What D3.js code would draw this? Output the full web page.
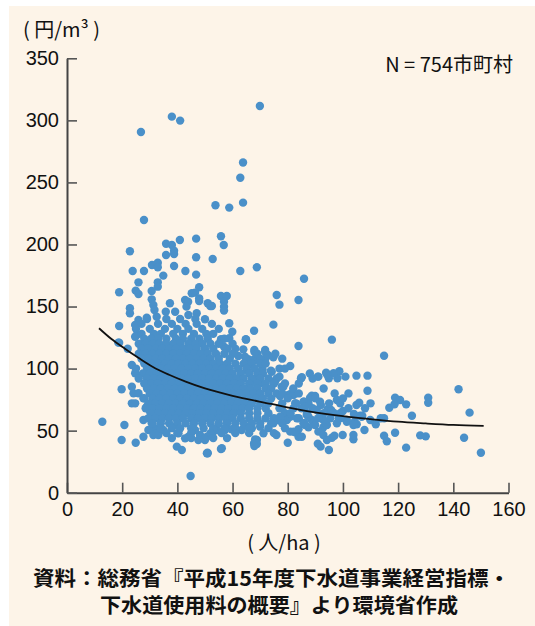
<!DOCTYPE html>
<html>
<head>
<meta charset="utf-8">
<script src="https://cdn.jsdelivr.net/npm/d3@7"></script>
<style>
body { margin: 0; background: #fff; }
svg { display: block; }
</style>
</head>
<body>
<script>
// sparse high-cost municipalities [density, cost]
var highPoints = [
  [69.9,311.6],[38.0,303.0],[41.0,299.8],[26.8,290.6],[63.8,266.0],[62.8,253.8],[63.8,233.7],
  [53.8,231.6],[58.8,229.7],[27.9,219.7],[46.8,204.7],[55.8,206.6],[56.8,199.6],[40.9,203.6],
  [35.9,200.6],[38.0,199.6],[38.8,195.0],[38.8,192.3],[35.9,191.5],[22.8,194.5],[46.8,189.7],
  [52.8,188.3],[68.8,181.6],[30.8,183.5],[32.9,185.3],[32.9,181.6],[38.8,182.7],[23.8,178.6],
  [27.9,178.6],[42.9,178.6],[46.8,175.7],[62.8,178.6],[34.9,174.9],[85.9,172.4],[25.9,169.5],
  [32.9,169.5],[32.9,166.0],[30.7,162.5],[18.9,161.5],[24.9,162.8],[25.9,160.1],[47.9,165.5],
  [45.2,160.7],[46.4,161.2],[76.0,159.3],[83.9,155.3],[77.0,151.5],[55.8,158.5],[57.9,158.5],
  [56.9,153.9],[56.9,149.9],[56.9,146.7],[51.0,152.6],[51.9,150.4],[74.8,135.4],[67.8,130.5],
  [64.9,123.3],[96.0,123.3],[83.9,118.2],[114.9,110.4]
];

// upper edge of the main cloud
var upperPoints = [
  [18.9,134.3],[22.8,148.6],[22.8,144.6],[18.9,120.9],[42.8,155.3],[43.9,153.9],[43.3,149.9],
  [30.7,155.8],[31.3,151.2],[31.7,147.2],[37.3,152.6],[52.5,150.4],[50.0,139.7],[47.0,144.6],
  [44.0,143.2],[35.8,145.8],[39.2,145.8],[32.5,141.8],[28.9,141.0],[25.9,139.2],[24.7,135.2],
  [25.3,127.1],[24.7,125.7],[47.9,156.6],[47.9,154.5],[58.8,136.5],[59.9,129.7],[58.8,124.4],
  [55.8,123.6],[64.8,123.6],[56.9,117.6],[63.9,115.5],[67.9,115.0],[71.8,115.0],[18.6,120.9],
  [23.5,102.9],[24.7,96.2],[19.8,83.3],[23.5,85.4],[24.1,80.1],[25.9,80.1],[23.5,72.0],[24.7,72.0]
];

// dense core, read row by row: cost level and the densities on it
var coreRowY = [140,136,132,128,124,120,116,112,108,104,100,96,92,88,84,80,76,72,68,64,60,56,52,48,44];
var coreRowX = [
  [29,36,41,46.5],
  [27,33,38,43,47,52.5],
  [25,30,35.5,40,44,49,55],
  [27,31.5,34,38.5,42,46,50.5,53],
  [28,30.5,33,36,39.5,42,45,48,51,57],
  [26,28.5,31,33.5,36,38.5,41,44,46.5,49,52,55,60],
  [22,27,29.5,32,34.5,37,39.5,42,44.5,47,50,53,58,61],
  [26,28.5,31,33.5,36,38.5,41,43.5,46,48.5,51,54,57,60,69,75.5],
  [27,29.5,32,34.5,37,39.5,42,44.5,47,49.5,52,55,59,70,78],
  [28,30.5,33,35.5,38,40.5,43,45.5,48,50.5,53,55.5,58,61,64,67,70,72],
  [25,29,31.5,34,36.5,39,41.5,44,46.5,49,51.5,54,56.5,59,62,65,68,77,79],
  [27.5,30,32.5,35,37.5,40,42.5,45,47.5,50,52.5,55,57.5,60,63,66,69,71,88],
  [26,29,31.5,34,36.5,39,41.5,44,46.5,49,51.5,54,56.5,59,61.5,64,67,70,73,76,89],
  [28,30.5,33,35.5,38,40.5,43,45.5,48,50.5,53,55.5,58,60.5,63,66,69,72,75,79,84],
  [29,31.5,34,36.5,39,41.5,44,46.5,49,51.5,54,56.5,59,61.5,64,66.5,69,72,74,82,93],
  [30,32.5,35,37.5,40,42.5,45,47.5,50,52.5,55,57.5,60,62.5,65,67.5,70,73,76,78,84,97,102],
  [28,31,33.5,36,38.5,41,43.5,46,48.5,51,53.5,56,58.5,61,63.5,66,68.5,71,74,80,90,100],
  [29.5,32,34.5,37,39.5,42,44.5,47,49.5,52,54.5,57,59.5,62,64.5,67,70,73,78,83,95,110],
  [28.5,31,33.5,36,38.5,41,43.5,46,48.5,51,53.5,56,58.5,61,63.5,66,69,72,77,85,89,102,108],
  [30.5,33,35.5,38,40.5,43,45.5,48,50.5,53,55.5,58,60.5,63,66,69,73,81,87,93],
  [29.5,32,34.5,37,39.5,42,45,47.5,50,52.5,55,57.5,60,63,66,69,72,75,84,91,99],
  [31,34,37,40,43,46,49,52,55,58,61,64,67,70,74,78,86],
  [34,38,41,45,49.5,53,57,61,66,73,79],
  [36,40,45,52,56,61,66,75],
  [38,45,53,58]
];

// lower-left scatter under the cloud
var lowPoints = [
  [12.8,57.2],[20.8,54.6],[19.8,42.5],[24.9,40.3],[27.7,76.1],[28.9,69.3],[30.1,65.3],[30.7,61.2],
  [31.9,69.3],[27.7,58.6],[30.7,55.9],[31.9,51.9],[29.5,50.5],[31.3,46.5],[27.7,45.1],[34.9,50.5],
  [32.5,47.9],[33.1,46.5],[39.8,54.6],[40.4,47.9],[42.8,43.8],[44.0,45.1],[39.8,37.1],[41.6,34.4],
  [46.4,50.5],[48.2,46.5],[50.0,43.8],[47.6,42.5],[50.7,31.7],[53.0,49.2],[44.8,13.5],[50.9,32.2],
  [55.8,35.2],[67.9,39.8]
];

// right-hand tail
var tailPoints = [
  [80.9,102.1],[84.8,92.2],[90.9,93.5],[93.9,96.7],[94.9,92.2],[98.7,97.8],[98.0,92.2],[100.9,93.5],
  [104.9,94.3],[108.9,94.3],[108.9,82.2],[141.9,83.3],[130.9,76.6],[130.9,72.5],[118.9,76.6],
  [120.7,74.7],[122.9,71.2],[116.8,68.5],[118.7,71.2],[125.0,62.0],[145.9,64.5],[114.9,60.0],
  [113.7,60.0],[111.9,55.1],[107.8,50.5],[114.9,45.9],[115.9,41.4],[118.9,48.3],[128.0,46.2],
  [130.0,45.4],[122.9,36.3],[143.9,44.3],[150.0,32.2],[94.9,34.4],[90.9,39.5],[91.9,37.1],
  [80.0,40.3],[103.8,43.0],[103.8,46.5],[99.9,46.5],[96.0,44.3],[96.9,45.9],[80.9,49.2],[82.7,48.7],
  [83.9,45.1],[67.8,39.5],[68.8,42.5],[75.9,46.5],[104.2,57.2],[105.0,55.1],[106.2,62.0],[107.0,62.0],
  [109.9,58.6],[104.9,70.7],[105.9,72.5],[104.0,63.4],[97.8,74.7],[99.0,72.0],[100.0,65.8],[88.7,78.2],
  [88.1,76.6],[92.0,70.7],[94.4,67.2],[85.9,73.3],[87.5,72.0],[98.5,60.0],[97.8,55.9],[101.4,57.2],
  [85.1,93.0],[91.1,93.5],[94.2,95.4],[96.6,96.2],[67.9,113.6],[65.7,107.5],[64.5,109.6],[62.1,110.2],
  [67.9,107.5],[71.8,113.6],[72.8,111.0],[74.8,109.1],[72.0,108.3],[70.8,98.9],[74.2,97.5],[75.4,89.4],
  [77.8,85.4],[81.4,80.1],[80.2,78.7],[89.9,77.9],[91.7,73.3],[94.7,66.6],[85.7,73.3],[86.3,69.3],
  [82.7,72.0],[82.1,68.0],[80.9,62.6],[83.3,60.0],[77.8,68.0],[79.0,64.0],[79.7,58.6],[76.6,58.6],
  [86.9,62.6],[88.7,58.6],[89.9,54.6],[87.5,52.7],[86.3,54.6],[91.7,61.2],[92.9,52.7],[94.2,54.6],
  [95.4,60.0],[95.7,66.6],[96.6,64.5],[91.1,49.2],[92.9,46.5],[94.2,42.5],[83.9,51.1],[82.1,49.2],
  [85.1,45.1],[68.2,43.0],[68.8,39.2],[67.9,37.6],[56.1,35.8],[51.0,31.7],[65.7,53.2],[67.0,51.9],
  [63.3,50.5],[59.7,51.1],[57.3,50.5],[54.3,50.5],[50.0,42.5],[50.7,45.1],[52.5,47.9],
  [65.2,98.9],[65.7,102.9],[70.8,99.4],[73.9,98.3],[74.8,89.4],[77.0,93.5],[69.4,93.5],[70.0,88.2],
  [67.6,89.4],[78.4,85.4],[82.1,78.7],[77.2,77.9],[87.5,61.2],[85.7,55.9],[80.9,61.2],[77.2,61.2],
  [74.8,55.9],[70.0,53.2],[71.2,47.9],[90.5,66.6],[92.9,58.6],[101.4,58.6],[103.8,54.6],[99.0,64.0],
  [106.8,61.2]
];

// fitted curve
var trendX = [11.6,16,21,26,31,37,43,50,60,74,85,97,110,120,130,140,151];
var trendY = [132.5,124,116,108.5,101.5,95,89.5,84,78,71.5,66.5,62.5,59.3,57.2,55.8,54.6,53.8];

var xTicks = [0,20,40,60,80,100,120,140,160];
var yTicks = [0,50,100,150,200,250,300,350];

(function () {
    var width = 535;
    var height = 626;
    var numFont = "'Liberation Sans', Arial, sans-serif";
    var jpFont = "'Noto Sans CJK JP', 'Liberation Sans', sans-serif";

    var svg = d3.select("body").append("svg")
        .attr("width", width)
        .attr("height", height);

    svg.append("rect")
        .attr("x", 9).attr("y", 6)
        .attr("width", width - 9).attr("height", height - 6)
        .attr("fill", "#fdf4e8");

    var xScale = d3.scaleLinear().domain([0, 160]).range([67, 508.5]);
    var yScale = d3.scaleLinear().domain([0, 350]).range([492.7, 58.3]);

    var points = highPoints.concat(upperPoints, lowPoints, tailPoints);
    coreRowY.forEach(function (yv, i) {
        coreRowX[i].forEach(function (xv) { points.push([xv, yv]); });
    });

    svg.append("g").selectAll("circle")
        .data(points)
        .enter().append("circle")
        .attr("cx", function (d) { return xScale(d[0]); })
        .attr("cy", function (d) { return yScale(d[1]); })
        .attr("r", 4.2)
        .attr("fill", "#4a90c9");

    var linefunc = d3.line()
        .x(function (d, i) { return xScale(trendX[i]); })
        .y(function (d) { return yScale(d); })
        .curve(d3.curveMonotoneX);

    svg.append("path")
        .attr("d", linefunc(trendY))
        .attr("fill", "none")
        .attr("stroke", "#111")
        .attr("stroke-width", 1.8);

    var xAxisGen = d3.axisBottom(xScale).tickValues(xTicks)
        .tickSizeInner(-10).tickSizeOuter(0).tickPadding(9);
    var yAxisGen = d3.axisLeft(yScale).tickValues(yTicks)
        .tickSizeInner(-10).tickSizeOuter(0).tickPadding(8);

    var xAxis = svg.append("g")
        .attr("transform", "translate(0," + yScale(0) + ")")
        .call(xAxisGen);
    var yAxis = svg.append("g")
        .attr("transform", "translate(" + xScale(0) + ",0)")
        .call(yAxisGen);

    [xAxis, yAxis].forEach(function (ax) {
        ax.select(".domain").attr("stroke", "#444").attr("stroke-width", 2);
        ax.selectAll(".tick line").attr("stroke", "#555").attr("stroke-width", 1.6);
        ax.selectAll(".tick text")
            .attr("fill", "#111")
            .style("font-family", numFont)
            .style("font-size", "20px");
    });

    svg.append("text")
        .attr("x", 23).attr("y", 37)
        .style("font-family", jpFont).style("font-size", "20px")
        .attr("fill", "#111")
        .text("( 円/m³ )");

    svg.append("text")
        .attr("x", 513).attr("y", 72)
        .attr("text-anchor", "end")
        .style("font-family", jpFont).style("font-size", "20px")
        .attr("fill", "#111")
        .text("N = 754市町村");

    svg.append("text")
        .attr("x", 284).attr("y", 550)
        .attr("text-anchor", "middle")
        .style("font-family", jpFont).style("font-size", "20px")
        .attr("fill", "#111")
        .text("( 人/ha )");

    svg.append("text")
        .attr("x", 33).attr("y", 586)
        .attr("textLength", 477).attr("lengthAdjust", "spacingAndGlyphs")
        .style("font-family", jpFont).style("font-size", "20px").style("font-weight", "bold")
        .attr("fill", "#111")
        .text("資料：総務省『平成15年度下水道事業経営指標・");

    svg.append("text")
        .attr("x", 100).attr("y", 613)
        .attr("textLength", 358).attr("lengthAdjust", "spacingAndGlyphs")
        .style("font-family", jpFont).style("font-size", "20px").style("font-weight", "bold")
        .attr("fill", "#111")
        .text("下水道使用料の概要』より環境省作成");
})();
</script>
</body>
</html>
